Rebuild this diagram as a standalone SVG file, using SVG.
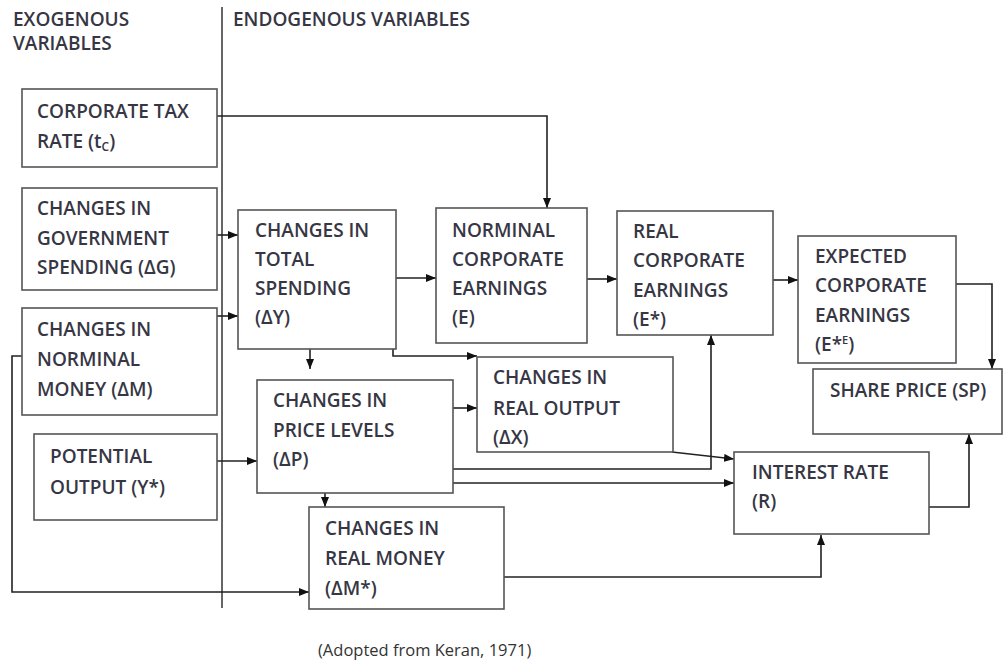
<svg xmlns="http://www.w3.org/2000/svg" width="1003" height="666" viewBox="0 0 1003 666">
<defs>
<marker id="ah" viewBox="0 0 10 8" refX="10" refY="4" markerWidth="10" markerHeight="8" markerUnits="userSpaceOnUse" orient="auto">
<path d="M0,0 L10,4 L0,8 Z" fill="#111"/>
</marker>
</defs>
<style>
.box{fill:#fff;stroke:#555;stroke-width:1.6}
.t{font-family:"Open Sans","DejaVu Sans",sans-serif;font-size:19px;font-weight:600;fill:#363644}
.c{fill:none;stroke:#222;stroke-width:1.6}
.a{marker-end:url(#ah)}
.div{stroke:#333;stroke-width:1.5}
.f{font-family:"Open Sans","DejaVu Sans",sans-serif;font-size:16.5px;fill:#333}
</style>
<rect width="1003" height="666" fill="#fff"/>
<line class="div" x1="222" y1="7" x2="222" y2="608"/>
<text class="t" x="13" y="26">EXOGENOUS</text>
<text class="t" x="13" y="50">VARIABLES</text>
<text class="t" x="233" y="26">ENDOGENOUS VARIABLES</text>

<g id="connectors">
<path class="c a" d="M217,116 H547 V208"/>
<path class="c a" d="M217,235 H238"/>
<path class="c a" d="M217,316 H238"/>
<path class="c a" d="M22,356 H12 V592 H309"/>
<path class="c a" d="M217,461 H257"/>
<path class="c a" d="M396,278 H436"/>
<path class="c a" d="M310,349 V369"/>
<path class="c a" d="M393,343 V356 H477"/>
<path class="c a" d="M587,279 H617"/>
<path class="c a" d="M773,280 H798"/>
<path class="c a" d="M956,284 H992 V369"/>
<path class="c a" d="M453,408 H477"/>
<path class="c a" d="M453,469 H711 V335"/>
<path class="c a" d="M453,483 H734"/>
<path class="c a" d="M672,452 L734,459"/>
<path class="c a" d="M325,493 V507"/>
<path class="c a" d="M504,577 H821 V535"/>
<path class="c a" d="M929,507 H969 V434"/>
</g>

<g id="tax">
<rect class="box" x="22" y="89" width="195" height="78"/>
<text class="t" x="37" y="118">CORPORATE TAX</text>
<text class="t" x="37" y="148">RATE (t<tspan font-size="12" dy="3">C</tspan><tspan dy="-3">)</tspan></text>
</g>
<g id="govspending">
<rect class="box" x="22" y="188" width="195" height="102"/>
<text class="t" x="37" y="215">CHANGES IN</text>
<text class="t" x="37" y="245">GOVERNMENT</text>
<text class="t" x="37" y="274">SPENDING (ΔG)</text>
</g>
<g id="nominalmoney">
<rect class="box" x="22" y="308" width="195" height="107"/>
<text class="t" x="37" y="336">CHANGES IN</text>
<text class="t" x="37" y="366">NORMINAL</text>
<text class="t" x="37" y="396">MONEY (ΔM)</text>
</g>
<g id="potential">
<rect class="box" x="34" y="434" width="183" height="86"/>
<text class="t" x="50" y="463">POTENTIAL</text>
<text class="t" x="50" y="494">OUTPUT (Y*)</text>
</g>
<g id="totalspending">
<rect class="box" x="238" y="210" width="158" height="139"/>
<text class="t" x="255" y="237">CHANGES IN</text>
<text class="t" x="255" y="266">TOTAL</text>
<text class="t" x="255" y="295">SPENDING</text>
<text class="t" x="255" y="324">(ΔY)</text>
</g>
<g id="nominalearnings">
<rect class="box" x="436" y="208" width="151" height="135"/>
<text class="t" x="452" y="237">NORMINAL</text>
<text class="t" x="452" y="266">CORPORATE</text>
<text class="t" x="452" y="295">EARNINGS</text>
<text class="t" x="452" y="324">(E)</text>
</g>
<g id="realearnings">
<rect class="box" x="617" y="211" width="156" height="124"/>
<text class="t" x="633" y="238">REAL</text>
<text class="t" x="633" y="267">CORPORATE</text>
<text class="t" x="633" y="297">EARNINGS</text>
<text class="t" x="633" y="326">(E*)</text>
</g>
<g id="expectedearnings">
<rect class="box" x="798" y="236" width="158" height="127"/>
<text class="t" x="815" y="263">EXPECTED</text>
<text class="t" x="815" y="292">CORPORATE</text>
<text class="t" x="815" y="322">EARNINGS</text>
<text class="t" x="815" y="351">(E*<tspan font-size="11" dy="-7">E</tspan><tspan dy="7">)</tspan></text>
</g>
<g id="shareprice">
<rect class="box" x="813" y="369" width="189" height="65"/>
<text class="t" x="830" y="397">SHARE PRICE (SP)</text>
</g>
<g id="pricelevels">
<rect class="box" x="257" y="380" width="196" height="113"/>
<text class="t" x="273" y="407">CHANGES IN</text>
<text class="t" x="273" y="437">PRICE LEVELS</text>
<text class="t" x="273" y="466">(ΔP)</text>
</g>
<g id="realoutput">
<rect class="box" x="477" y="357" width="196" height="95"/>
<text class="t" x="493" y="384">CHANGES IN</text>
<text class="t" x="493" y="415">REAL OUTPUT</text>
<text class="t" x="493" y="444">(ΔX)</text>
</g>
<g id="realmoney">
<rect class="box" x="309" y="507" width="195" height="102"/>
<text class="t" x="325" y="535">CHANGES IN</text>
<text class="t" x="325" y="565">REAL MONEY</text>
<text class="t" x="325" y="595">(ΔM*)</text>
</g>
<g id="interestrate">
<rect class="box" x="734" y="452" width="195" height="82"/>
<text class="t" x="752" y="479">INTEREST RATE</text>
<text class="t" x="752" y="508">(R)</text>
</g>
<text class="f" x="318" y="656">(Adopted from Keran, 1971)</text>
</svg>
